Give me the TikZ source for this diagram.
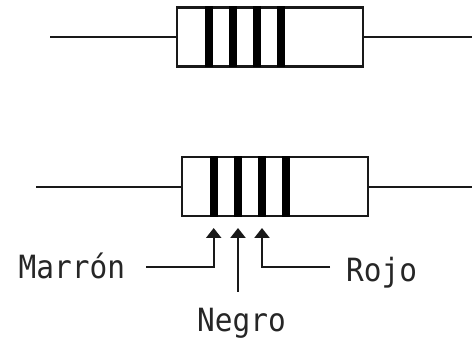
\documentclass[tikz,border=0pt]{standalone}
\usepackage{fontspec}
\setmainfont{DejaVu Sans Mono}[FakeStretch=0.92]
\usetikzlibrary{arrows.meta}
\tikzset{
  wire/.style={line width=2.3pt,line cap=butt,black!90},
  bodybox/.style={draw=black!90,line width=2.3pt,fill=white,minimum width=186.5pt,minimum height=59pt,inner sep=0pt,outer sep=0pt},
  band/.style={fill=black,draw=none,minimum width=8pt,minimum height=61pt,inner sep=0pt,outer sep=0pt},
  pointer/.style={wire,-{Triangle[length=10pt,width=15pt]}},
  colourlabel/.style={font=\fontsize{32}{32}\selectfont,inner sep=0pt,text=black!85}
}
\begin{document}
\begin{tikzpicture}[x=1pt,y=-1pt]
\useasboundingbox (0,0) rectangle (472,342);
\node[bodybox] (r1) at (270,37) {};
\node[band] (a1) at (208.5,37) {};
\node[band] (a2) at (232.5,37) {};
\node[band] (a3) at (256.7,37) {};
\node[band] (a4) at (280.7,37) {};
\coordinate (l1) at (50,37);
\coordinate (e1) at (472,37);
\draw[wire] (l1) -- (r1.west);
\draw[wire] (r1.east) -- (e1);
\node[bodybox] (r2) at (275,186.7) {};
\node[band] (b1) at (213.7,186.7) {};
\node[band] (b2) at (238,186.7) {};
\node[band] (b3) at (262,186.7) {};
\node[band] (b4) at (286,186.7) {};
\coordinate (l2) at (36,186.7);
\coordinate (e2) at (472,186.7);
\draw[wire] (l2) -- (r2.west);
\draw[wire] (r2.east) -- (e2);
\node[colourlabel,anchor=base west] (m) at (18.5,279) {Marrón};
\node[colourlabel,anchor=base west] (j) at (346,281.5) {Rojo};
\node[colourlabel,anchor=base west] (n) at (197,332) {Negro};
\coordinate (tm) at (213.7,228);
\coordinate (tn) at (238,228);
\coordinate (tr) at (262,228);
\coordinate (sm) at (146,267);
\coordinate (sn) at (238,292);
\coordinate (sr) at (330,267);
\draw[pointer] (sm) -| (tm);
\draw[pointer] (sn) -- (tn);
\draw[pointer] (sr) -| (tr);
\end{tikzpicture}
\end{document}
